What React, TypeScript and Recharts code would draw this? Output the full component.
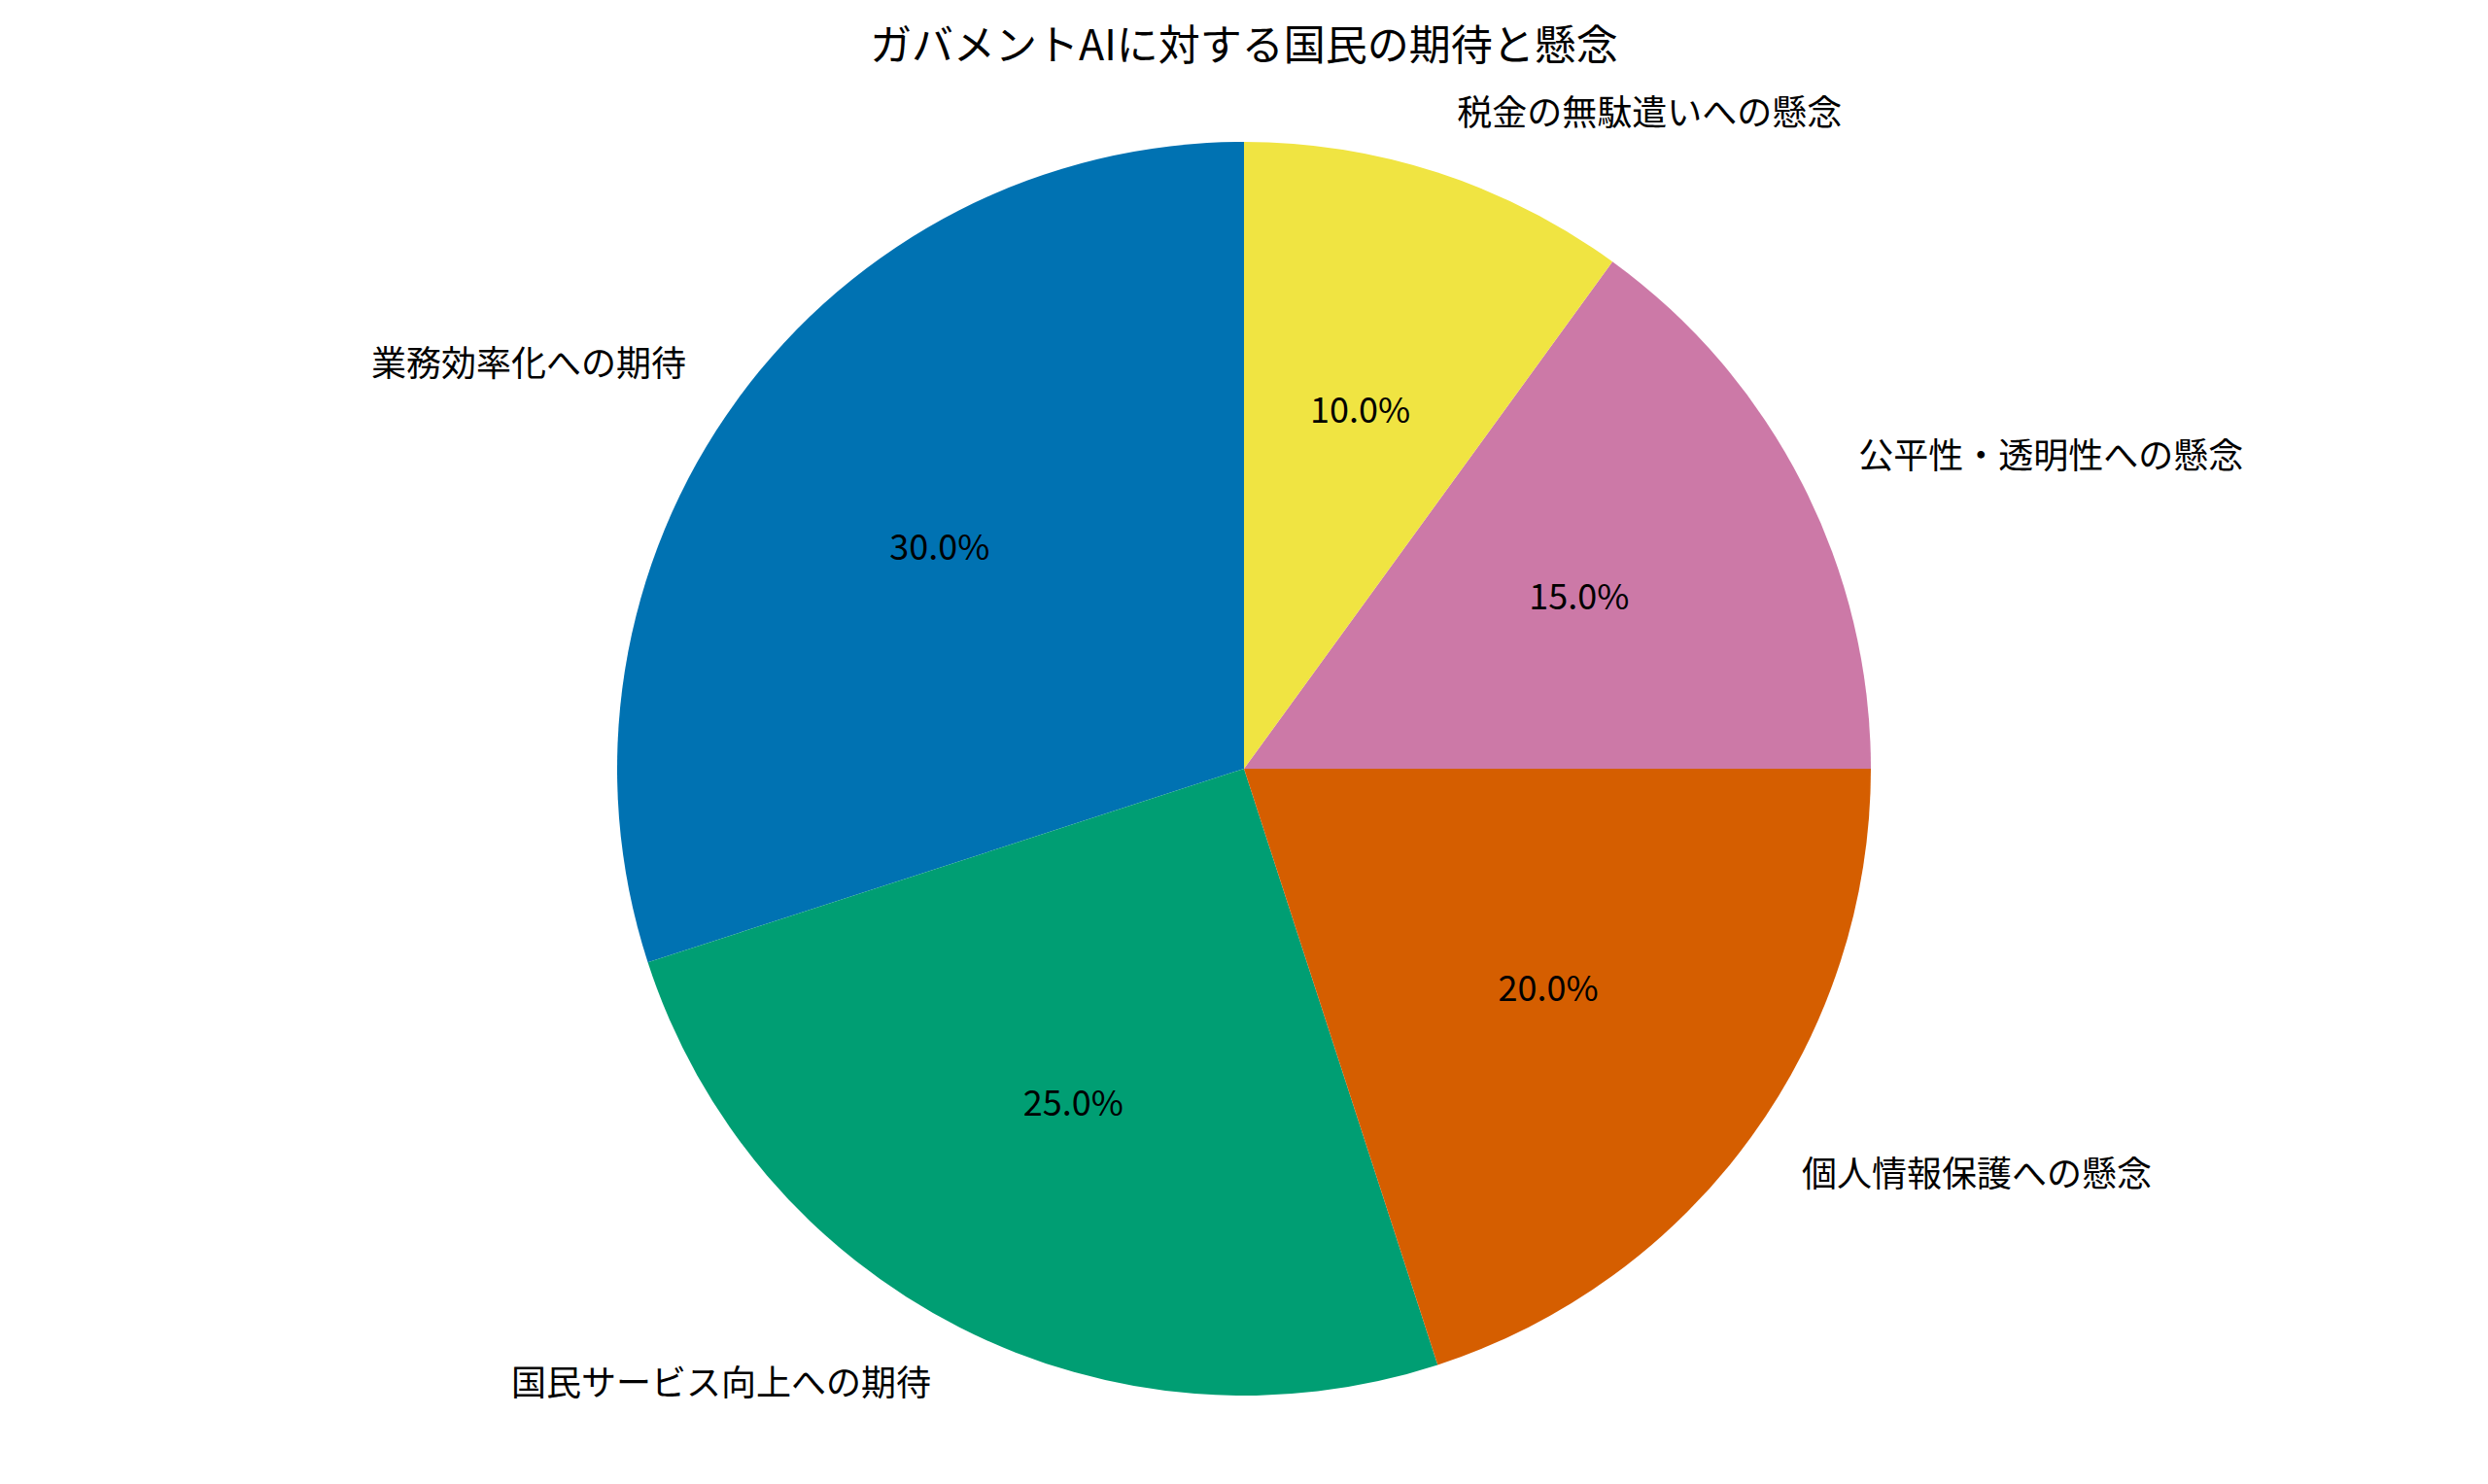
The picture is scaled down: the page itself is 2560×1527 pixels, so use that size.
import React from 'react';
import { PieChart, Pie, Cell } from 'recharts';

const categories = [
  '業務効率化への期待',
  '国民サービス向上への期待',
  '個人情報保護への懸念',
  '公平性・透明性への懸念',
  '税金の無駄遣いへの懸念',
];
const shares = [30, 25, 20, 15, 10];
const colors = ['#0072B2', '#009E73', '#D55E00', '#CC79A7', '#F0E442'];

const chartData = categories.map((name, i) => ({ name, value: shares[i] }));

const FONT = '"Noto Sans CJK JP", "Noto Sans", sans-serif';
const RADIAN = Math.PI / 180;

const renderLabel = (props: any) => {
  const { cx, cy, midAngle, outerRadius, percent, name, index } = props;
  const cos = Math.cos(-midAngle * RADIAN);
  const sin = Math.sin(-midAngle * RADIAN);
  const nx = cx + outerRadius * 1.1 * cos;
  const ny = cy + outerRadius * 1.1 * sin;
  const px = cx + outerRadius * 0.6 * cos;
  const py = cy + outerRadius * 0.6 * sin;
  return (
    <g key={`lbl-${index}`}>
      <text
        x={nx}
        y={ny - 3}
        textAnchor={nx > cx ? 'start' : 'end'}
        dominantBaseline='central'
        fontFamily={FONT}
        fontSize={36}
        fill='#000'
      >
        {name}
      </text>
      <text
        x={px}
        y={py - 4}
        textAnchor='middle'
        dominantBaseline='central'
        fontFamily={FONT}
        fontSize={36}
        fill='#000'
      >
        {(percent * 100).toFixed(1)}%
      </text>
    </g>
  );
};

export default function App() {
  return (
    <div
      style={{
        position: 'absolute',
        left: 0,
        top: 0,
        width: 2560,
        height: 1527,
        background: '#fff',
      }}
    >
      <div
        style={{
          position: 'absolute',
          left: 0,
          top: 21,
          width: 2560,
          textAlign: 'center',
          fontFamily: FONT,
          fontSize: 43,
          lineHeight: '44px',
          color: '#000',
        }}
      >
        ガバメントAIに対する国民の期待と懸念
      </div>
      <PieChart width={2560} height={1527} margin={{ top: 0, right: 0, bottom: 0, left: 0 }}>
        <Pie
          data={chartData}
          dataKey='value'
          nameKey='name'
          cx={1280}
          cy={791}
          innerRadius={0}
          outerRadius={645}
          startAngle={90}
          endAngle={450}
          stroke='none'
          label={renderLabel}
          labelLine={false}
          isAnimationActive={false}
        >
          {chartData.map((d, i) => (
            <Cell key={d.name} fill={colors[i]} />
          ))}
        </Pie>
      </PieChart>
    </div>
  );
}
